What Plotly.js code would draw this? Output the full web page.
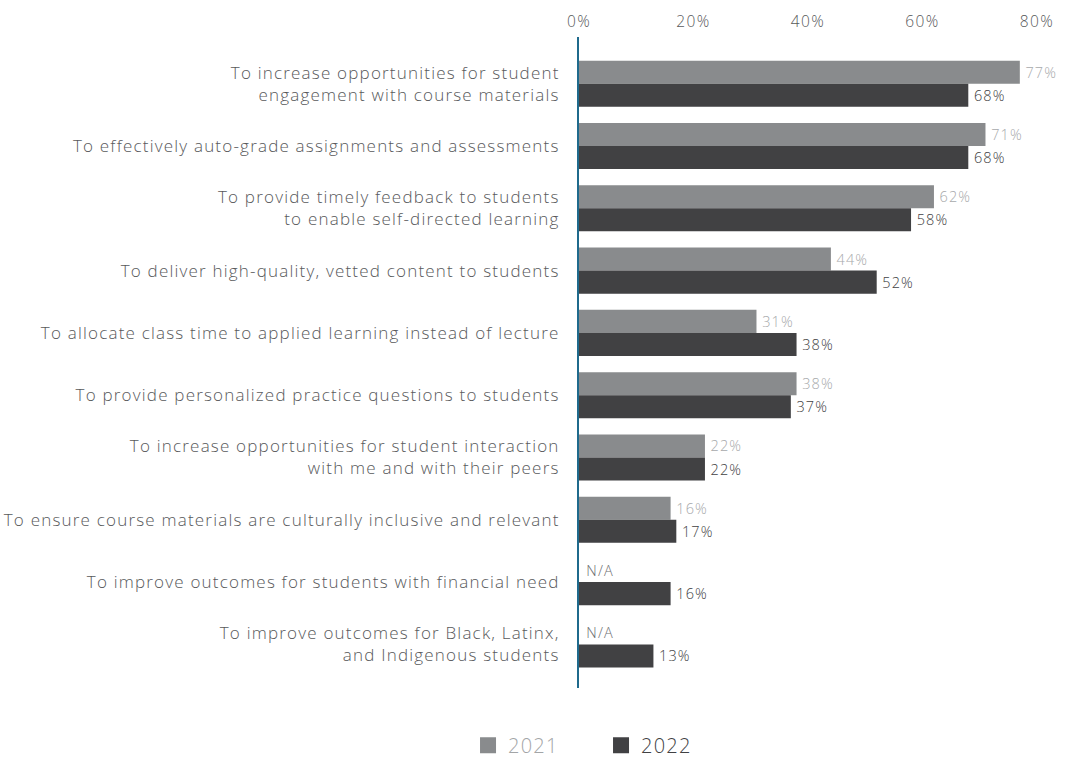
<!DOCTYPE html>
<html>
<head>
<meta charset="utf-8">
<script src="https://cdn.plot.ly/plotly-3.0.1.min.js"></script>
<style>
html,body{margin:0;padding:0;background:#fff;}
#chart{width:1071px;height:762px;}
#chart .ytick text{letter-spacing:1.2px;}
#chart .xtick text{letter-spacing:1.4px;}
#chart text.bartext{letter-spacing:1.1px;}
#chart .legendtext{letter-spacing:1.2px;}
#chart .annotation-text{letter-spacing:1.1px;}
</style>
</head>
<body>
<div id="chart"></div>
<script>
const categories = [
  "To increase opportunities for student<br>engagement with course materials",
  "To effectively auto-grade assignments and assessments",
  "To provide timely feedback to students<br>to enable self-directed learning",
  "To deliver high-quality, vetted content to students",
  "To allocate class time to applied learning instead of lecture",
  "To provide personalized practice questions to students",
  "To increase opportunities for student interaction<br>with me and with their peers",
  "To ensure course materials are culturally inclusive and relevant",
  "To improve outcomes for students with financial need",
  "To improve outcomes for Black, Latinx,<br>and Indigenous students"
];
const values2021 = [77, 71, 62, 44, 31, 38, 22, 16, null, null];
const values2022 = [68, 68, 58, 52, 38, 37, 22, 17, 16, 13];
const naLabel = "N/A";
const seriesNames = ["2021", "2022"];
const xTickVals = [0, 20, 40, 60, 80];
const xTickText = ["0%", "20%", "40%", "60%", "80%"];

const fontFam = "'Open Sans', 'Noto Sans', sans-serif";
const c2021 = '#898b8d', c2022 = '#414143';

const t2021 = {
  type: 'bar', orientation: 'h', name: seriesNames[0], showlegend: false,
  y: categories, x: values2021,
  text: values2021.map(v => v == null ? '' : ' ' + v + '%'),
  textposition: 'outside', cliponaxis: false, constraintext: 'none',
  textfont: {color: '#a7a9ab', size: 14.5, family: fontFam, weight: 300},
  marker: {color: c2021}, hoverinfo: 'none'
};
const t2022 = {
  type: 'bar', orientation: 'h', name: seriesNames[1], showlegend: false,
  y: categories, x: values2022,
  text: values2022.map(v => ' ' + v + '%'),
  textposition: 'outside', cliponaxis: false, constraintext: 'none',
  textfont: {color: '#414143', size: 14.5, family: fontFam, weight: 300},
  marker: {color: c2022}, hoverinfo: 'none'
};
// legend-only entries with larger square swatches
const l2021 = {type: 'scatter', mode: 'markers', x: [null], y: [null],
  name: '<span style="color:#a3a5a7">' + seriesNames[0] + '</span>',
  marker: {symbol: 'square', size: 21, color: c2021}, hoverinfo: 'none'};
const l2022 = {type: 'scatter', mode: 'markers', x: [null], y: [null],
  name: '<span style="color:#414143">' + seriesNames[1] + '</span>',
  marker: {symbol: 'square', size: 21, color: c2022}, hoverinfo: 'none'};

const annotations = [];
values2021.forEach((v, i) => {
  if (v == null) {
    annotations.push({
      x: 0, y: categories[i], xref: 'x', yref: 'y', text: naLabel,
      showarrow: false, xanchor: 'left', yanchor: 'middle', xshift: 7, yshift: 12,
      font: {color: '#6d6e70', size: 14.5, family: fontFam, weight: 300}
    });
  }
});

const layout = {
  width: 1071, height: 762,
  margin: {l: 579, r: 34, t: 37, b: 74},
  paper_bgcolor: '#fff', plot_bgcolor: '#fff',
  barmode: 'group', bargap: 0.26, bargroupgap: 0,
  font: {family: fontFam, color: '#555'},
  xaxis: {
    side: 'top', range: [0, 80], tickvals: xTickVals, ticktext: xTickText,
    showgrid: false, zeroline: false, showline: false, ticks: '', ticklabelstandoff: 6,
    tickfont: {size: 15.5, color: '#58595b', family: fontFam, weight: 300}, fixedrange: true
  },
  yaxis: {
    type: 'category', range: [9.7, -0.75],
    showgrid: false, zeroline: false, showline: true, linecolor: '#1f6a8c', linewidth: 2,
    ticks: '', ticklabelstandoff: 14,
    tickfont: {size: 17, color: '#58595b', family: fontFam, weight: 300}, fixedrange: true
  },
  legend: {
    orientation: 'h', xref: 'container', yref: 'container',
    x: 0.437, xanchor: 'left', y: 0.022, yanchor: 'middle',
    font: {size: 20, family: fontFam, color: '#414143', weight: 300}, traceorder: 'normal',
    itemwidth: 30, entrywidth: 88, entrywidthmode: 'pixels'
  },
  annotations: annotations,
  showlegend: true
};

Plotly.newPlot('chart', [t2021, t2022, l2021, l2022], layout, {displayModeBar: false, staticPlot: true});
</script>
</body>
</html>
